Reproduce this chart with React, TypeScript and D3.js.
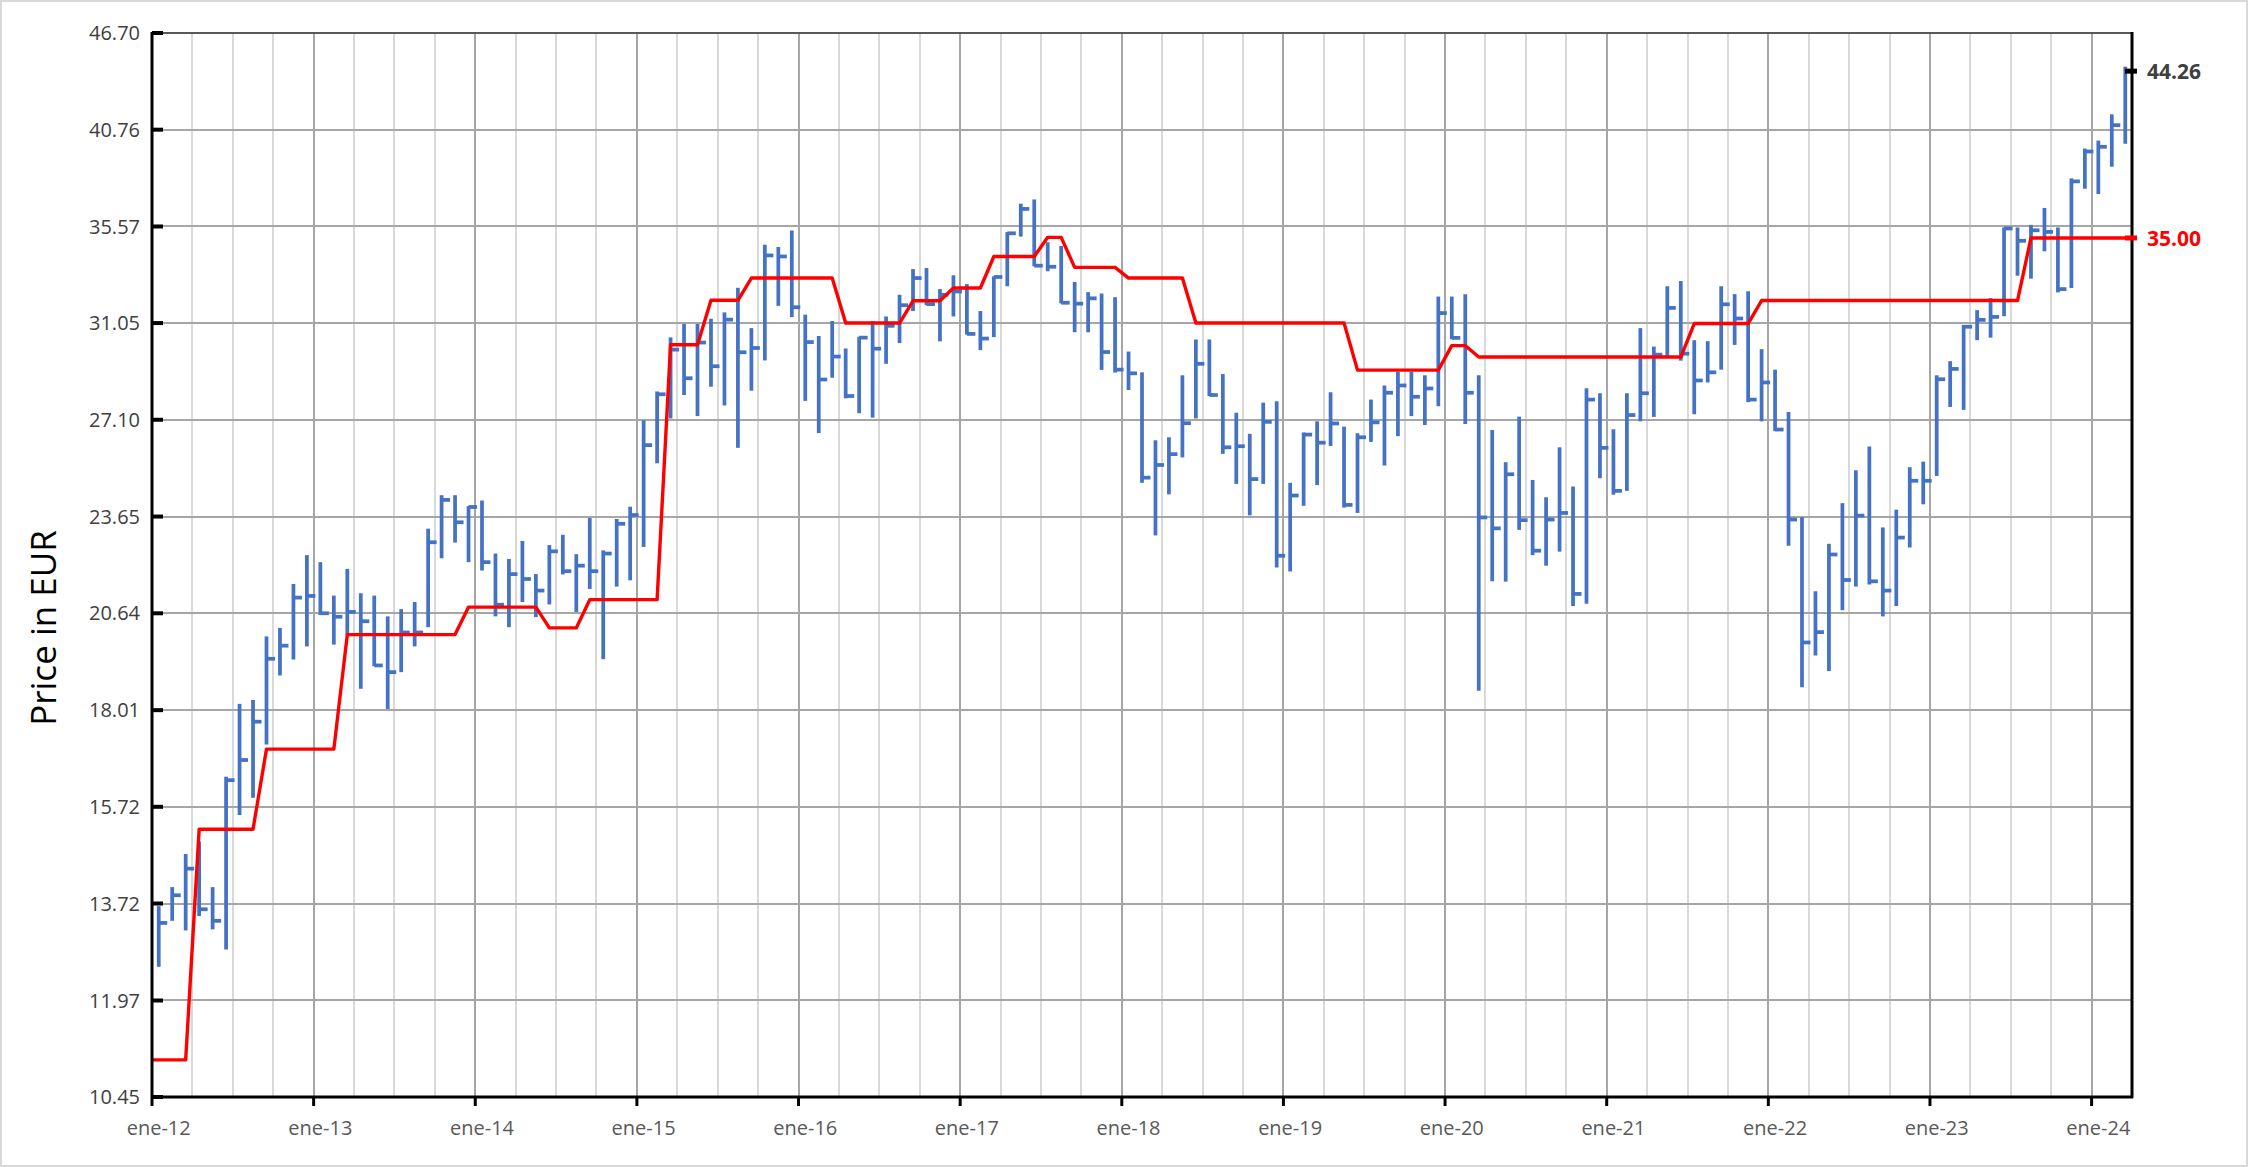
import React, { useEffect, useRef } from 'react'
import * as d3 from 'd3'

const W = 2249
const H = 1167

// monthly bars, Jan 2012 .. Mar 2024 (high / low / close)
const highs = [
  13.67, 14.04, 14.71, 14.97, 14.04, 16.40, 18.17, 18.27, 19.98, 20.22, 21.51, 22.40,
  22.18, 21.16, 21.97, 21.23, 21.16, 20.55, 20.76, 20.97, 23.25, 24.37, 24.37, 24.00,
  24.19, 22.45, 22.28, 22.85, 21.81, 22.72, 23.05, 22.43, 23.60, 22.55, 23.57, 23.98,
  27.08, 28.20, 30.43, 31.01, 31.01, 31.24, 31.52, 32.63, 30.83, 34.67, 34.56, 35.37,
  31.42, 30.49, 31.14, 29.96, 30.46, 31.14, 31.34, 32.31, 33.50, 33.55, 32.57, 33.21,
  32.80, 31.58, 33.16, 35.29, 36.73, 36.95, 34.79, 34.61, 32.90, 32.43, 32.37, 32.20,
  29.83, 28.97, 26.33, 26.44, 28.85, 30.34, 30.34, 28.90, 27.37, 26.57, 27.76, 27.82,
  24.80, 26.62, 27.04, 28.17, 26.84, 26.59, 27.88, 28.44, 28.99, 28.99, 28.85, 32.23,
  32.23, 32.34, 28.85, 26.71, 25.53, 27.22, 24.90, 24.30, 26.07, 24.67, 28.33, 28.13,
  26.74, 28.13, 30.83, 30.04, 32.70, 32.94, 30.31, 30.27, 32.70, 32.34, 32.47, 29.93,
  29.08, 27.40, 23.63, 21.29, 22.76, 24.10, 25.24, 26.10, 23.29, 23.88, 25.35, 25.55,
  28.85, 29.43, 30.97, 31.62, 32.16, 35.52, 35.52, 35.65, 36.51, 35.52, 38.06, 39.69,
  40.14, 41.65, 44.54,
]
const lows = [
  12.55, 13.39, 13.21, 13.48, 13.23, 12.86, 15.54, 15.92, 17.16, 18.91, 19.34, 19.70,
  20.59, 19.75, 20.01, 18.56, 19.16, 18.04, 19.00, 19.70, 20.24, 22.30, 22.80, 22.18,
  21.92, 20.55, 20.24, 20.97, 20.53, 20.90, 21.80, 20.68, 21.36, 19.35, 21.43, 21.62,
  22.66, 25.49, 27.15, 28.06, 27.24, 28.39, 27.65, 26.05, 28.23, 29.46, 31.81, 31.31,
  27.83, 26.60, 28.75, 27.93, 27.35, 27.18, 29.32, 30.19, 31.58, 31.84, 30.26, 31.34,
  30.55, 29.89, 30.44, 32.70, 35.07, 33.63, 33.40, 31.92, 30.65, 30.65, 29.07, 28.96,
  28.26, 24.80, 23.03, 24.40, 25.70, 27.15, 28.02, 25.83, 24.76, 23.69, 24.76, 22.01,
  21.89, 24.01, 24.72, 26.12, 23.95, 23.77, 26.27, 25.41, 26.48, 27.24, 26.90, 27.62,
  30.35, 26.94, 18.51, 21.59, 21.58, 23.21, 22.40, 22.07, 22.51, 20.85, 20.92, 24.96,
  24.39, 24.52, 27.04, 27.21, 29.63, 29.45, 27.31, 28.56, 29.08, 30.11, 27.78, 27.04,
  26.67, 22.70, 18.60, 19.45, 19.03, 20.73, 21.43, 21.49, 20.55, 20.85, 22.64, 24.06,
  25.04, 27.59, 27.48, 30.31, 30.42, 31.35, 33.19, 33.05, 34.35, 32.42, 32.62, 37.51,
  37.23, 38.69, 39.96,
]
const closes = [
  13.35, 13.88, 14.41, 13.61, 13.39, 16.32, 16.79, 17.72, 19.36, 19.72, 21.10, 21.15,
  20.64, 20.54, 20.68, 20.41, 19.18, 19.00, 20.09, 20.09, 22.81, 24.21, 23.46, 23.97,
  22.18, 20.89, 21.81, 21.66, 21.31, 22.52, 21.90, 22.07, 21.90, 22.45, 23.41, 23.70,
  26.15, 28.09, 29.91, 28.73, 30.21, 29.22, 31.20, 29.80, 29.98, 34.15, 34.10, 31.75,
  30.23, 28.68, 29.62, 28.02, 30.42, 29.95, 30.93, 31.84, 33.08, 31.89, 32.31, 32.46,
  30.58, 30.38, 33.13, 35.23, 36.46, 33.66, 33.61, 31.95, 31.91, 32.15, 29.81, 29.08,
  28.93, 24.98, 25.43, 25.82, 26.97, 29.32, 28.06, 26.07, 26.11, 24.93, 27.02, 22.38,
  24.36, 26.54, 26.24, 26.96, 24.04, 26.44, 27.00, 28.15, 28.44, 27.99, 28.32, 31.49,
  30.41, 28.15, 23.62, 23.26, 25.10, 23.53, 22.54, 23.55, 23.77, 21.21, 27.88, 26.05,
  24.52, 27.28, 28.13, 29.70, 31.72, 29.74, 28.64, 28.97, 31.88, 31.25, 27.88, 28.56,
  26.73, 23.55, 19.81, 20.10, 22.42, 21.63, 23.68, 21.59, 21.31, 22.96, 24.87, 24.87,
  28.69, 29.11, 30.89, 31.19, 31.32, 35.47, 34.86, 35.38, 35.30, 32.57, 37.90, 39.53,
  39.79, 41.02, 44.26,
]
// red reference level, one value per month
const refLevel = [
  11.01, 11.01, 11.01, 15.23, 15.23, 15.23, 15.23, 15.23, 17.05, 17.05, 17.05, 17.05,
  17.05, 17.05, 20.03, 20.03, 20.03, 20.03, 20.03, 20.03, 20.03, 20.03, 20.03, 20.82,
  20.82, 20.82, 20.82, 20.82, 20.82, 20.22, 20.22, 20.22, 21.04, 21.04, 21.04, 21.04,
  21.04, 21.04, 30.12, 30.12, 30.12, 32.06, 32.06, 32.06, 33.08, 33.08, 33.08, 33.08,
  33.08, 33.08, 33.08, 31.05, 31.05, 31.05, 31.05, 31.05, 32.04, 32.04, 32.04, 32.62,
  32.62, 32.62, 34.10, 34.10, 34.10, 34.10, 35.03, 35.03, 33.58, 33.58, 33.58, 33.58,
  33.08, 33.08, 33.08, 33.08, 33.08, 31.05, 31.05, 31.05, 31.05, 31.05, 31.05, 31.05,
  31.05, 31.05, 31.05, 31.05, 31.05, 29.06, 29.06, 29.06, 29.06, 29.06, 29.06, 29.06,
  30.08, 30.08, 29.60, 29.60, 29.60, 29.60, 29.60, 29.60, 29.60, 29.60, 29.60, 29.60,
  29.60, 29.60, 29.60, 29.60, 29.60, 29.60, 31.03, 31.03, 31.03, 31.03, 31.03, 32.05,
  32.05, 32.05, 32.05, 32.05, 32.05, 32.05, 32.05, 32.05, 32.05, 32.05, 32.05, 32.05,
  32.05, 32.05, 32.05, 32.05, 32.05, 32.05, 32.05, 35.00, 35.00, 35.00, 35.00, 35.00,
  35.00, 35.00, 35.00,
]

const yTicks = [10.45, 11.97, 13.72, 15.72, 18.01, 20.64, 23.65, 27.10, 31.05, 35.57, 40.76, 46.70]
const xLabels = ['ene-12', 'ene-13', 'ene-14', 'ene-15', 'ene-16', 'ene-17', 'ene-18',
  'ene-19', 'ene-20', 'ene-21', 'ene-22', 'ene-23', 'ene-24']
const lastClose = 44.26
const lastRef = 35.00

const FONT = '"Open Sans", "Liberation Sans", sans-serif'
const BLUE = '#4472c4'

export default function App() {
  const svgRef = useRef<SVGSVGElement>(null)

  useEffect(() => {
    document.body.style.margin = '0'
    if (!svgRef.current) return
    const svg = d3.select(svgRef.current)
    svg.selectAll('*').remove()

    const left = 152, right = 2132, top = 33, bottom = 1097
    const start = new Date(2012, 0, 1)
    const months = highs.map((_, i) => d3.timeMonth.offset(start, i))
    const keys = months.map(d => d3.timeFormat('%Y-%m')(d))

    const x = d3.scaleBand<string>().domain(keys).range([left, right]).paddingInner(0).paddingOuter(0)
    const bw = x.bandwidth()
    const cx = (i: number) => (x(keys[i]) as number) + bw / 2
    const y = d3.scaleLog().domain([yTicks[0], yTicks[yTicks.length - 1]]).range([bottom, top])

    // outer frame
    svg.append('rect').attr('x', 1).attr('y', 1).attr('width', W - 3).attr('height', H - 2)
      .attr('fill', '#fff').attr('stroke', '#d9d9d9').attr('stroke-width', 2)

    // vertical gridlines: quarters light, years darker
    const idx = months.map((d, i) => i)
    const quarterIdx = idx.filter(i => i > 0 && months[i].getMonth() % 3 === 0 && months[i].getMonth() !== 0)
    const yearIdx = idx.filter(i => months[i].getMonth() === 0)
    svg.append('g').selectAll('line')
      .data(quarterIdx)
      .enter().append('line')
      .attr('x1', i => Math.round(x(keys[i]) as number)).attr('x2', i => Math.round(x(keys[i]) as number))
      .attr('y1', top).attr('y2', bottom)
      .attr('stroke', '#d9d9d9').attr('stroke-width', 2)
    svg.append('g').selectAll('line')
      .data(yearIdx.filter(i => i > 0))
      .enter().append('line')
      .attr('x1', i => Math.round(x(keys[i]) as number)).attr('x2', i => Math.round(x(keys[i]) as number))
      .attr('y1', top).attr('y2', bottom)
      .attr('stroke', '#a6a6a6').attr('stroke-width', 2)

    // horizontal gridlines
    svg.append('g').selectAll('line')
      .data(yTicks.slice(1, -1))
      .enter().append('line')
      .attr('x1', left).attr('x2', right)
      .attr('y1', d => Math.round(y(d))).attr('y2', d => Math.round(y(d)))
      .attr('stroke', '#a6a6a6').attr('stroke-width', 2)
    svg.append('line').attr('x1', left).attr('x2', right).attr('y1', top).attr('y2', top)
      .attr('stroke', '#595959').attr('stroke-width', 2)

    // HLC bars
    const bars = svg.append('g')
    bars.selectAll('line.hl').data(highs).enter().append('line').attr('class', 'hl')
      .attr('x1', (d, i) => cx(i)).attr('x2', (d, i) => cx(i))
      .attr('y1', d => y(d)).attr('y2', (d, i) => y(lows[i]))
      .attr('stroke', BLUE).attr('stroke-width', 3.75)
    bars.selectAll('line.c').data(closes).enter().append('line').attr('class', 'c')
      .attr('x1', (d, i) => cx(i)).attr('x2', (d, i) => cx(i) + 8.5)
      .attr('y1', d => y(d)).attr('y2', d => y(d))
      .attr('stroke', BLUE).attr('stroke-width', 3.75)

    // red reference line, stretched to the plot edges
    const pts: [number, number][] = refLevel.map((v, i) => [cx(i), y(v)])
    pts.unshift([left, y(refLevel[0])])
    pts.push([right, y(refLevel[refLevel.length - 1])])
    svg.append('path').attr('d', d3.line()(pts) as string)
      .attr('fill', 'none').attr('stroke', '#ff0000').attr('stroke-width', 3.4)
      .attr('stroke-linejoin', 'round')

    // axes
    svg.append('line').attr('x1', left).attr('x2', left).attr('y1', top - 1).attr('y2', bottom + 9)
      .attr('stroke', '#000').attr('stroke-width', 3)
    svg.append('line').attr('x1', right).attr('x2', right).attr('y1', top - 1).attr('y2', bottom + 1)
      .attr('stroke', '#000').attr('stroke-width', 3)
    svg.append('line').attr('x1', left).attr('x2', right + 1).attr('y1', bottom).attr('y2', bottom)
      .attr('stroke', '#000').attr('stroke-width', 3)

    // y ticks and labels
    svg.append('g').selectAll('line').data(yTicks).enter().append('line')
      .attr('x1', left).attr('x2', left + 11)
      .attr('y1', d => y(d)).attr('y2', d => y(d))
      .attr('stroke', '#000').attr('stroke-width', 4)
    svg.append('g').selectAll('text').data(yTicks).enter().append('text')
      .attr('x', 140).attr('y', d => y(d)).attr('dy', '0.36em')
      .attr('text-anchor', 'end')
      .style('font-family', FONT).style('font-size', '20px').style('fill', '#404040')
      .text(d => d.toFixed(2))

    // x ticks and labels
    svg.append('g').selectAll('line').data(yearIdx.filter(i => i > 0)).enter().append('line')
      .attr('x1', i => x(keys[i]) as number).attr('x2', i => x(keys[i]) as number)
      .attr('y1', bottom).attr('y2', bottom + 9)
      .attr('stroke', '#000').attr('stroke-width', 3)
    svg.append('g').selectAll('text').data(yearIdx).enter().append('text')
      .attr('x', i => cx(i)).attr('y', 1135)
      .attr('text-anchor', 'middle')
      .style('font-family', FONT).style('font-size', '20px').style('fill', '#595959')
      .text((i, k) => xLabels[k])

    // right-edge markers
    svg.append('line').attr('x1', right - 7).attr('x2', right + 5)
      .attr('y1', y(lastRef)).attr('y2', y(lastRef))
      .attr('stroke', '#ff0000').attr('stroke-width', 5)
    svg.append('line').attr('x1', right - 7).attr('x2', right + 5)
      .attr('y1', y(lastClose)).attr('y2', y(lastClose))
      .attr('stroke', '#000').attr('stroke-width', 5)
    svg.append('text').attr('x', 2147).attr('y', y(lastClose)).attr('dy', '0.36em')
      .style('font-family', FONT).style('font-size', '21px').style('font-weight', 700)
      .style('fill', '#404040').text(lastClose.toFixed(2))
    svg.append('text').attr('x', 2147).attr('y', y(lastRef)).attr('dy', '0.36em')
      .style('font-family', FONT).style('font-size', '21px').style('font-weight', 700)
      .style('fill', '#ff0000').text(lastRef.toFixed(2))

    // y axis title
    svg.append('text')
      .attr('transform', 'translate(44,628) rotate(-90)')
      .attr('dy', '0.35em').attr('text-anchor', 'middle')
      .style('font-family', FONT).style('font-size', '35px').style('fill', '#000')
      .text('Price in EUR')
  }, [])

  return <svg ref={svgRef} width={W} height={H} style={{ display: 'block' }} />
}
